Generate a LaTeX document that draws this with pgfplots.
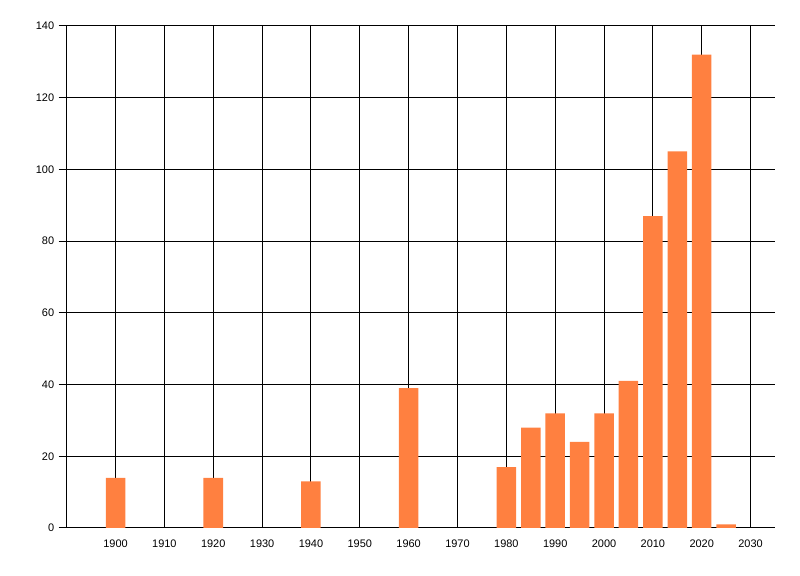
\documentclass[border=0pt]{standalone}
\usepackage{pgfplots}
\pgfplotsset{compat=1.18}
\usepackage{fontspec}
\setmainfont{Liberation Sans}
\definecolor{barc}{RGB}{255,128,64}
\begin{document}
\begin{tikzpicture}[x=1bp,y=1bp]
\path[use as bounding box] (0,0) rectangle (800,576);
\begin{axis}[
  at={(66.7bp,48bp)}, anchor=south west,
  scale only axis, width=708.3bp, height=502bp,
  xmin=1890, xmax=2035, ymin=0, ymax=140,
  axis x line*=bottom, axis y line*=left,
  xtick={1900,1910,...,2030}, ytick={0,20,...,140},
  grid=major, major grid style={black, line width=1bp},
  axis line style={black, line width=1bp},
  /pgf/number format/1000 sep={},
  /pgf/number format/assume math mode=true,
  tick label style={font=\fontsize{11}{13}\selectfont},
  tick align=outside, major tick length=8bp,
  ytick style={black, line width=1bp},
  xtick style={draw=none},
  x tick label style={yshift=0bp},
  y tick label style={xshift=-1bp},
  ybar, bar width=19.5bp,
]
\addplot[fill=barc, draw=none] coordinates {
(1900,14) (1920,14) (1940,13) (1960,39) (1980,17) (1985,28) (1990,32)
(1995,24) (2000,32) (2005,41) (2010,87) (2015,105) (2020,132) (2025,1)
};
\end{axis}
\end{tikzpicture}
\end{document}
